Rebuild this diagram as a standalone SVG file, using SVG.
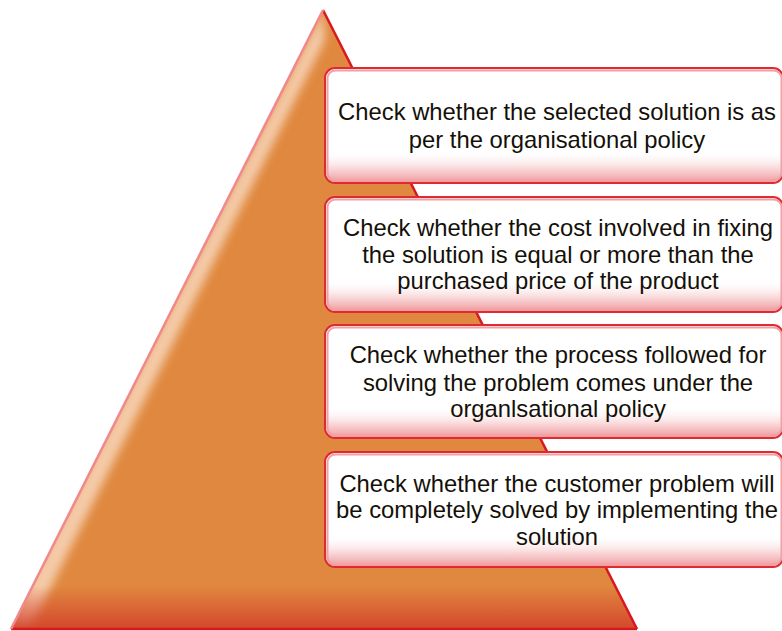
<svg xmlns="http://www.w3.org/2000/svg" width="782" height="631" viewBox="0 0 782 631">
<defs>
<style>
.lbl{font-family:"Liberation Sans",Arial,Helvetica,sans-serif;font-size:23.8px;fill:#141008;text-anchor:middle}
.boxbg{fill:#ffffff;stroke:#de2a30;stroke-width:2}
.boxin{fill:none;stroke:#f2a0a4;stroke-width:2}
.boxsh{fill:url(#boxShade)}
</style>
<linearGradient id="boxShade" x1="0" y1="0" x2="0" y2="1">
<stop offset="0" stop-color="#ffffff" stop-opacity="0"/>
<stop offset="0.72" stop-color="#ffffff" stop-opacity="0"/>
<stop offset="0.9" stop-color="#f6c2c4" stop-opacity="0.8"/>
<stop offset="1" stop-color="#ef9a9e" stop-opacity="1"/>
</linearGradient>
<linearGradient id="triBottom" x1="0" y1="0" x2="0" y2="1">
<stop offset="0" stop-color="#d2402a" stop-opacity="0"/>
<stop offset="0.93" stop-color="#d2402a" stop-opacity="0"/>
<stop offset="1" stop-color="#d2402a" stop-opacity="0.9"/>
</linearGradient>
<filter id="soft" x="-20%" y="-5%" width="140%" height="110%">
<feGaussianBlur stdDeviation="5"/>
</filter>
<clipPath id="triClip">
<polygon points="323,10 11,629 637,629"/>
</clipPath>
</defs>
<g id="pyramid">
<polygon points="323,10 11,629 637,629" fill="#e0883f"/>
<g clip-path="url(#triClip)">
<polygon points="323,10 6,629 30,629 325,40" fill="#fbe2cc" opacity="0.75" filter="url(#soft)"/>
</g>
<polygon points="323,10 11,629 637,629" fill="url(#triBottom)"/>
<line x1="323" y1="10" x2="637" y2="629" stroke="#d8181e" stroke-width="2.5"/>
<line x1="11" y1="629" x2="637" y2="629" stroke="#d8181e" stroke-width="2.5"/>
<line x1="323" y1="10" x2="11" y2="629" stroke="#f0888c" stroke-width="2.5"/>
</g>
<g id="box1">
<rect class="boxbg" x="325" y="68" width="458" height="115" rx="10"/>
<rect class="boxsh" x="326" y="69" width="456" height="113" rx="9"/>
<rect class="boxin" x="327.5" y="70.5" width="454" height="110" rx="8"/>
<text class="lbl" x="557" y="120">Check whether the selected solution is as</text>
<text class="lbl" x="557" y="148">per the organisational policy</text>
</g>
<g id="box2">
<rect class="boxbg" x="325" y="197" width="458" height="115" rx="10"/>
<rect class="boxsh" x="326" y="198" width="456" height="113" rx="9"/>
<rect class="boxin" x="327.5" y="199.5" width="454" height="110" rx="8"/>
<text class="lbl" x="558" y="236">Check whether the cost involved in fixing</text>
<text class="lbl" x="558" y="263">the solution is equal or more than the</text>
<text class="lbl" x="558" y="289">purchased price of the product</text>
</g>
<g id="box3">
<rect class="boxbg" x="325" y="325" width="458" height="113" rx="10"/>
<rect class="boxsh" x="326" y="326" width="456" height="111" rx="9"/>
<rect class="boxin" x="327.5" y="327.5" width="454" height="108" rx="8"/>
<text class="lbl" x="558" y="363">Check whether the process followed for</text>
<text class="lbl" x="558" y="391">solving the problem comes under the</text>
<text class="lbl" x="558" y="417">organlsational policy</text>
</g>
<g id="box4">
<rect class="boxbg" x="325" y="452" width="458" height="115" rx="10"/>
<rect class="boxsh" x="326" y="453" width="456" height="113" rx="9"/>
<rect class="boxin" x="327.5" y="454.5" width="454" height="110" rx="8"/>
<text class="lbl" x="557" y="492">Check whether the customer problem will</text>
<text class="lbl" x="557" y="518">be completely solved by implementing the</text>
<text class="lbl" x="557" y="545">solution</text>
</g>
</svg>
